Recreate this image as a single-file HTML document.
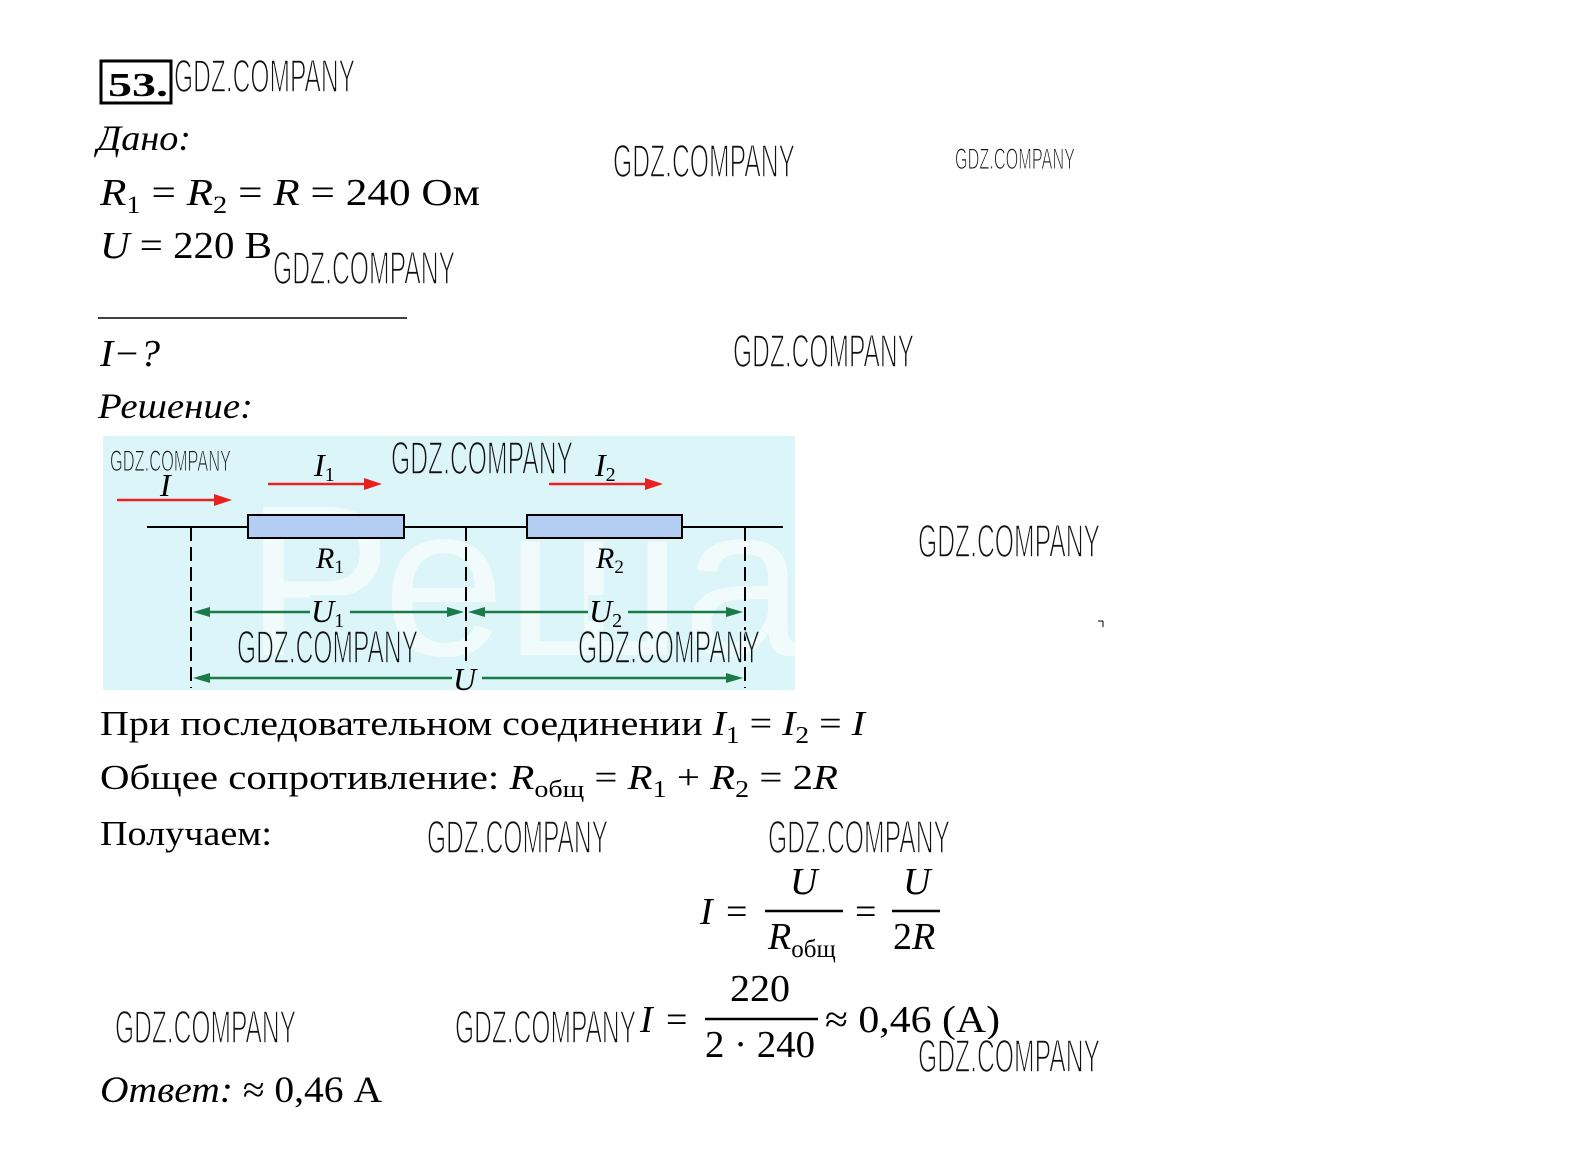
<!DOCTYPE html>
<html><head><meta charset="utf-8"><style>
html,body{margin:0;padding:0;background:#fff;}
svg{display:block}
.s{font-family:"Liberation Serif","DejaVu Serif",serif;fill:#000}
.w{font-family:"Liberation Sans",sans-serif;fill:#111;stroke:#fff;stroke-width:1.6}
.i{font-style:italic}
</style></head><body>
<svg width="1582" height="1165" viewBox="0 0 1582 1165" xmlns="http://www.w3.org/2000/svg">
<rect width="1582" height="1165" fill="#fff"/>
<rect x="101" y="61" width="70" height="42" fill="none" stroke="#000" stroke-width="3"/>
<text class="s" x="108" y="96" font-size="34" font-weight="bold" textLength="60" lengthAdjust="spacingAndGlyphs">53.</text>

<text class="s i" x="97" y="150" font-size="36" textLength="94" lengthAdjust="spacingAndGlyphs">Дано:</text>
<text class="s" x="100" y="205" font-size="38" textLength="380" lengthAdjust="spacingAndGlyphs"><tspan font-style="italic">R</tspan><tspan font-size="25" dy="8">1</tspan><tspan dy="-8"> = </tspan><tspan font-style="italic">R</tspan><tspan font-size="25" dy="8">2</tspan><tspan dy="-8"> = </tspan><tspan font-style="italic">R</tspan> = 240 Ом</text>
<text class="s" x="100" y="258" font-size="38" textLength="172" lengthAdjust="spacingAndGlyphs"><tspan font-style="italic">U</tspan> = 220 В</text>
<line x1="98" y1="318" x2="407" y2="318" stroke="#000" stroke-width="1.5"/>
<text class="s i" x="100" y="366" font-size="38" textLength="60" lengthAdjust="spacingAndGlyphs">I−?</text>
<text class="s i" x="98" y="418" font-size="36" textLength="155" lengthAdjust="spacingAndGlyphs">Решение:</text>

<rect x="103" y="436" width="692" height="254" fill="#dcf5f8"/>
<text x="245" y="655" font-family="Liberation Sans,sans-serif" font-size="215" fill="#fff" fill-opacity="0.6" textLength="560" lengthAdjust="spacingAndGlyphs">Реша</text>
<g stroke="#e82020" stroke-width="2.5" fill="#e82020">
<line x1="117" y1="500" x2="218" y2="500"/><polygon points="232,500 214,494 214,506" stroke="none"/>
<line x1="268" y1="484" x2="368" y2="484"/><polygon points="382,484 364,478 364,490" stroke="none"/>
<line x1="549" y1="484" x2="649" y2="484"/><polygon points="663,484 645,478 645,490" stroke="none"/>
</g>
<text class="s i" x="160" y="496" font-size="32">I</text>
<text class="s i" x="314" y="476" font-size="32">I<tspan font-size="20" dy="5" font-style="normal">1</tspan></text>
<text class="s i" x="595" y="476" font-size="32">I<tspan font-size="20" dy="5" font-style="normal">2</tspan></text>
<g stroke="#000" stroke-width="2">
<line x1="147" y1="527" x2="248" y2="527"/>
<line x1="404" y1="527" x2="527" y2="527"/>
<line x1="682" y1="527" x2="783" y2="527"/>
</g>
<rect x="248" y="515" width="156" height="23" fill="#b4cdf2" stroke="#000" stroke-width="2"/>
<rect x="527" y="515" width="155" height="23" fill="#b4cdf2" stroke="#000" stroke-width="2"/>
<g stroke="#000" stroke-width="2" stroke-dasharray="14,6">
<line x1="191" y1="527" x2="191" y2="688"/>
<line x1="466" y1="527" x2="466" y2="688"/>
<line x1="745" y1="527" x2="745" y2="688"/>
</g>
<text class="s i" x="316" y="568" font-size="30" fill="#555">R<tspan font-size="19" dy="5" font-style="normal">1</tspan></text>
<text class="s i" x="596" y="568" font-size="30" fill="#555">R<tspan font-size="19" dy="5" font-style="normal">2</tspan></text>
<g stroke="#1a7a4a" stroke-width="2.5" fill="#1a7a4a">
<line x1="205" y1="612" x2="452" y2="612"/>
<polygon points="193,612 210,607 210,617" stroke="none"/><polygon points="464,612 447,607 447,617" stroke="none"/>
<line x1="482" y1="612" x2="731" y2="612"/>
<polygon points="468,612 485,607 485,617" stroke="none"/><polygon points="743,612 726,607 726,617" stroke="none"/>
<line x1="205" y1="678" x2="731" y2="678"/>
<polygon points="193,678 210,673 210,683" stroke="none"/><polygon points="743,678 726,673 726,683" stroke="none"/>
</g>
<rect x="310" y="595" width="40" height="26" fill="#dcf5f8"/>
<rect x="588" y="595" width="40" height="26" fill="#dcf5f8"/>
<rect x="452" y="664" width="30" height="24" fill="#dcf5f8"/>
<text class="s i" x="311" y="622" font-size="32">U<tspan font-size="20" dy="5" font-style="normal">1</tspan></text>
<text class="s i" x="589" y="622" font-size="32" fill="#555">U<tspan font-size="20" dy="5" font-style="normal">2</tspan></text>
<text class="s i" x="453" y="690" font-size="32">U</text>

<text class="s" x="100" y="735" font-size="35" textLength="765" lengthAdjust="spacingAndGlyphs">При последовательном соединении <tspan font-style="italic">I</tspan><tspan font-size="24" dy="8">1</tspan><tspan dy="-8"> = </tspan><tspan font-style="italic">I</tspan><tspan font-size="24" dy="8">2</tspan><tspan dy="-8"> = </tspan><tspan font-style="italic">I</tspan></text>
<text class="s" x="100" y="789" font-size="35" textLength="738" lengthAdjust="spacingAndGlyphs">Общее сопротивление: <tspan font-style="italic">R</tspan><tspan font-size="24" dy="8">общ</tspan><tspan dy="-8"> = </tspan><tspan font-style="italic">R</tspan><tspan font-size="24" dy="8">1</tspan><tspan dy="-8"> + </tspan><tspan font-style="italic">R</tspan><tspan font-size="24" dy="8">2</tspan><tspan dy="-8"> = 2</tspan><tspan font-style="italic">R</tspan></text>
<text class="s" x="100" y="845" font-size="35" textLength="172" lengthAdjust="spacingAndGlyphs">Получаем:</text>

<text class="s i" x="700" y="924" font-size="38">I</text>
<text class="s" x="726" y="924" font-size="38">=</text>
<text class="s i" x="790" y="894" font-size="38">U</text>
<line x1="765" y1="911" x2="843" y2="911" stroke="#000" stroke-width="2.5"/>
<text class="s" x="768" y="949" font-size="38"><tspan font-style="italic">R</tspan><tspan font-size="25" dy="8">общ</tspan></text>
<text class="s" x="855" y="924" font-size="38">=</text>
<text class="s i" x="903" y="894" font-size="38">U</text>
<line x1="892" y1="911" x2="940" y2="911" stroke="#000" stroke-width="2.5"/>
<text class="s" x="893" y="949" font-size="38">2<tspan font-style="italic">R</tspan></text>

<text class="s i" x="640" y="1032" font-size="38">I</text>
<text class="s" x="666" y="1032" font-size="38">=</text>
<text class="s" x="730" y="1001" font-size="38" textLength="60" lengthAdjust="spacingAndGlyphs">220</text>
<line x1="705" y1="1019" x2="818" y2="1019" stroke="#000" stroke-width="2.5"/>
<text class="s" x="705" y="1057" font-size="38" textLength="110" lengthAdjust="spacingAndGlyphs">2 · 240</text>
<text class="s" x="825" y="1032" font-size="38" textLength="175" lengthAdjust="spacingAndGlyphs">≈ 0,46 (А)</text>

<text class="s" x="100" y="1102" font-size="37" textLength="282" lengthAdjust="spacingAndGlyphs"><tspan font-style="italic">Ответ:</tspan> ≈ 0,46 А</text>

<line x1="1098" y1="621" x2="1103" y2="621" stroke="#000" stroke-width="1"/>
<line x1="1103" y1="621" x2="1103" y2="627" stroke="#000" stroke-width="1"/>

<g class="w" font-size="46">
<text x="174" y="92" textLength="181" lengthAdjust="spacingAndGlyphs">GDZ.COMPANY</text>
<text x="613" y="177" textLength="182" lengthAdjust="spacingAndGlyphs">GDZ.COMPANY</text>
<text x="273" y="284" textLength="182" lengthAdjust="spacingAndGlyphs">GDZ.COMPANY</text>
<text x="733" y="367" textLength="181" lengthAdjust="spacingAndGlyphs">GDZ.COMPANY</text>
<text x="391" y="474" textLength="182" lengthAdjust="spacingAndGlyphs" style="stroke:#dcf5f8">GDZ.COMPANY</text>
<text x="918" y="557" textLength="182" lengthAdjust="spacingAndGlyphs">GDZ.COMPANY</text>
<text x="237" y="663" textLength="181" lengthAdjust="spacingAndGlyphs" style="stroke:#dcf5f8">GDZ.COMPANY</text>
<text x="578" y="663" textLength="182" lengthAdjust="spacingAndGlyphs" style="stroke:#dcf5f8">GDZ.COMPANY</text>
<text x="427" y="853" textLength="181" lengthAdjust="spacingAndGlyphs">GDZ.COMPANY</text>
<text x="768" y="853" textLength="182" lengthAdjust="spacingAndGlyphs">GDZ.COMPANY</text>
<text x="115" y="1043" textLength="181" lengthAdjust="spacingAndGlyphs">GDZ.COMPANY</text>
<text x="455" y="1043" textLength="181" lengthAdjust="spacingAndGlyphs">GDZ.COMPANY</text>
<text x="918" y="1072" textLength="182" lengthAdjust="spacingAndGlyphs">GDZ.COMPANY</text>
</g>
<g class="w" font-size="30" style="stroke-width:1.1">
<text x="955" y="169" textLength="120" lengthAdjust="spacingAndGlyphs">GDZ.COMPANY</text>
<text x="110" y="471" textLength="121" lengthAdjust="spacingAndGlyphs" style="stroke:#dcf5f8">GDZ.COMPANY</text>
</g>
</svg>
</body></html>
